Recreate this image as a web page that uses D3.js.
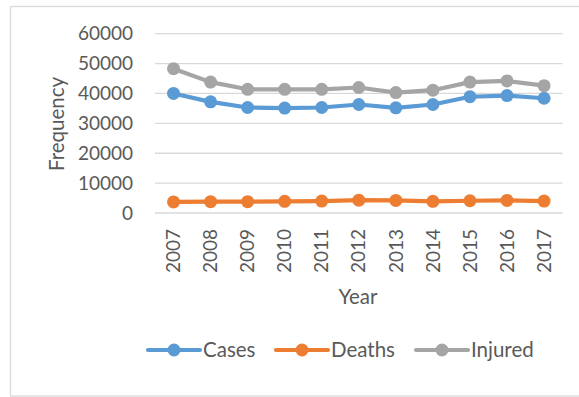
<!DOCTYPE html>
<html><head><meta charset="utf-8">
<script src="https://cdn.jsdelivr.net/npm/d3@7"></script>
<style>
html,body{margin:0;padding:0;background:#fff;}
svg{display:block;font-family:Lato, "Open Sans", sans-serif;}
</style></head>
<body>
<svg id="chart" width="579" height="397"></svg>
<script>
const years = ["2007","2008","2009","2010","2011","2012","2013","2014","2015","2016","2017"];
const cases = [40000,37200,35300,35100,35300,36300,35200,36300,38900,39300,38400];
const deaths = [3700,3800,3800,3900,4000,4300,4200,3900,4100,4200,4000];
const injured = [48300,43800,41400,41400,41400,42000,40300,41100,43800,44200,42600];
const yTicks = [0,10000,20000,30000,40000,50000,60000];
const seriesNames = ["Cases","Deaths","Injured"];
const seriesColors = ["#5B9BD5","#ED7D31","#A5A5A5"];

const series = [
  {name: seriesNames[0], values: cases, color: seriesColors[0]},
  {name: seriesNames[1], values: deaths, color: seriesColors[1]},
  {name: seriesNames[2], values: injured, color: seriesColors[2]}
];

const svg = d3.select("#chart");
const textColor = "#595959";
const gridColor = "#D9D9D9";

// outer border
svg.append("rect").attr("x",10.5).attr("y",6.5).attr("width",600).attr("height",389.5)
  .attr("fill","none").attr("stroke",gridColor).attr("stroke-width",1.3);

const x = d3.scaleBand().domain(years).range([155,562.6]);
const y = d3.scaleLinear().domain([0,60000]).range([213,33.7]);

// gridlines
svg.append("g").selectAll("line").data(yTicks).join("line")
  .attr("x1",155).attr("x2",562.6)
  .attr("y1",d=>y(d)).attr("y2",d=>y(d))
  .attr("stroke",gridColor).attr("stroke-width",1.3);

// y axis labels
const yAxis = d3.axisLeft(y).tickValues(yTicks).tickSize(0).tickPadding(0).tickFormat(d3.format("d"));
const gy = svg.append("g").attr("transform","translate(133,0)").call(yAxis);
gy.select(".domain").remove();
gy.selectAll("text").attr("fill",textColor).style("font-size","19px").style("font-family","Lato, sans-serif");

// x axis labels
const xAxis = d3.axisBottom(x).tickSize(0).tickPadding(0);
const gx = svg.append("g").attr("transform","translate(0,229)").call(xAxis);
gx.select(".domain").remove();
gx.selectAll("text")
  .attr("fill",textColor).style("font-size","19px").style("font-family","Lato, sans-serif")
  .attr("transform","rotate(-90)")
  .attr("text-anchor","end")
  .attr("x",0).attr("y",0).attr("dy","0.35em");

// axis titles
svg.append("text").attr("transform","translate(57,124) rotate(-90)")
  .attr("text-anchor","middle").attr("dy","0.35em")
  .attr("fill",textColor).style("font-size","20.5px").text("Frequency");
svg.append("text").attr("x",358).attr("y",297)
  .attr("text-anchor","middle").attr("dy","0.35em")
  .attr("fill",textColor).style("font-size","20.5px").text("Year");

// lines
const line = d3.line().x((d,i)=>x(years[i])+x.bandwidth()/2).y(d=>y(d));
const gs = svg.append("g").selectAll("g").data(series).join("g");
gs.append("path").attr("d",d=>line(d.values)).attr("fill","none")
  .attr("stroke",d=>d.color).attr("stroke-width",4.2).attr("stroke-linejoin","round").attr("stroke-linecap","round");
gs.selectAll("circle").data(d=>d.values.map(v=>({v,color:d.color}))).join("circle")
  .attr("cx",(d,i)=>x(years[i])+x.bandwidth()/2).attr("cy",d=>y(d.v))
  .attr("r",6.5).attr("fill",d=>d.color);

// legend
const legendX = [148,276,416];
const lg = svg.append("g").selectAll("g").data(series).join("g")
  .attr("transform",(d,i)=>`translate(${legendX[i]},350)`);
lg.append("line").attr("x1",0).attr("x2",52).attr("y1",0).attr("y2",0)
  .attr("stroke",d=>d.color).attr("stroke-width",4.2).attr("stroke-linecap","round");
lg.append("circle").attr("cx",26).attr("cy",0).attr("r",6.5).attr("fill",d=>d.color);
lg.append("text").attr("x",55).attr("y",0).attr("dy","0.35em")
  .attr("fill",textColor).style("font-size","20.5px").text(d=>d.name);
</script>
</body></html>
